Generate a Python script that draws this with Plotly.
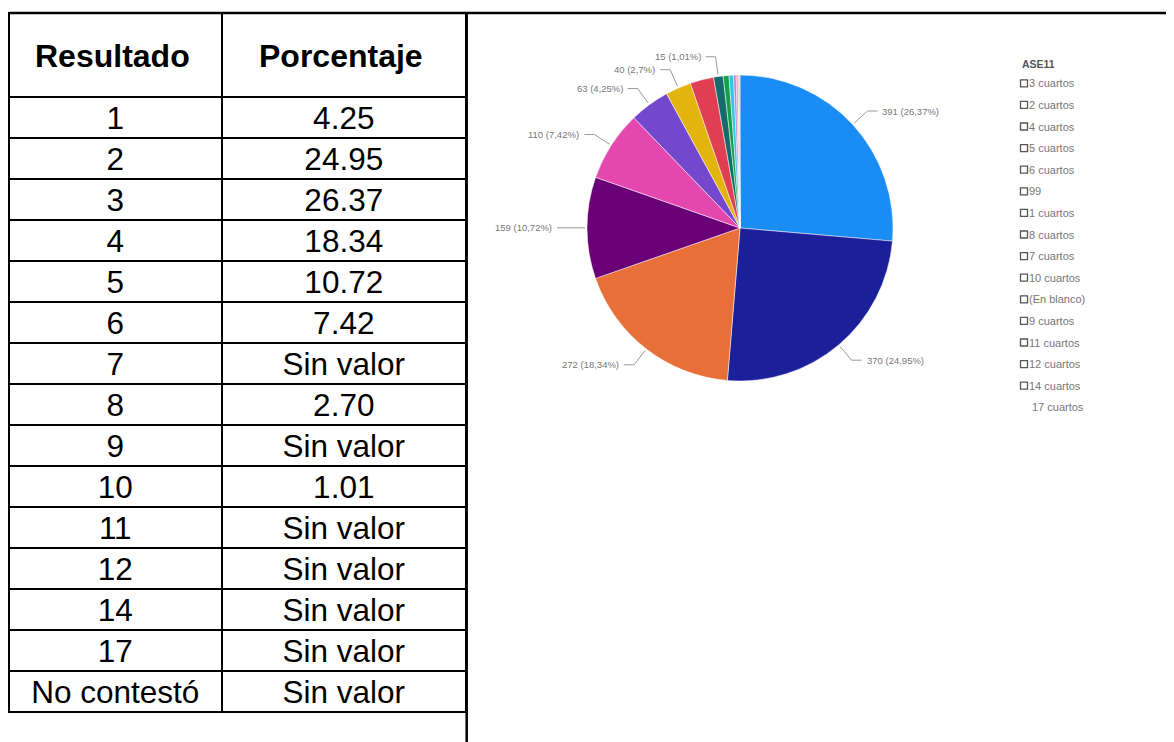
import math
import plotly.graph_objects as go

# ---------------- data ----------------
table_headers = ["Resultado", "Porcentaje"]
resultado = ["1", "2", "3", "4", "5", "6", "7", "8", "9", "10",
             "11", "12", "14", "17", "No contestó"]
porcentaje = ["4.25", "24.95", "26.37", "18.34", "10.72", "7.42", "Sin valor",
              "2.70", "Sin valor", "1.01", "Sin valor", "Sin valor",
              "Sin valor", "Sin valor", "Sin valor"]

legend_title = "ASE11"
pie_labels = ["3 cuartos", "2 cuartos", "4 cuartos", "5 cuartos", "6 cuartos",
              "99", "1 cuartos", "8 cuartos", "7 cuartos", "10 cuartos",
              "(En blanco)", "9 cuartos", "11 cuartos", "12 cuartos",
              "14 cuartos", "17 cuartos"]
pie_values = [391, 370, 272, 159, 110, 63, 40, 37, 15, 9, 7, 4, 3, 1, 1, 1]
pie_colors = ["#1a8cf5", "#1b1f99", "#e86f37", "#6a0078", "#e447ad",
              "#7448cc", "#e3b40d", "#df3f50", "#136b6b", "#12a14a",
              "#34c3e8", "#a78bd6", "#f48fb1", "#ff9800", "#795548",
              "#9e9e9e"]
label_shown = [True, True, True, True, True, True, True, False, True,
               False, False, False, False, False, False, False]
legend_has_box = [True] * 15 + [False]

# ---------------- layout helpers ----------------
# the page body adds an 8 px margin, so page coordinates are shifted by it
W, H = 1174, 742
OFF = 8


def px(x):
    return (x - OFF) / W


def py(y):
    return 1 - (y - OFF) / H


FONT = "Liberation Sans, Arial, sans-serif"

fig = go.Figure()

# ---------------- table ----------------
TX0, TX1, TY0 = 9, 466.7, 13
HEAD_H, ROW_H = 84, 41
COLW = [213, 245]
fig.add_trace(go.Table(
    domain=dict(x=[px(TX0), px(TX1)], y=[0, py(TY0)]),
    columnwidth=COLW,
    header=dict(
        values=["", ""],
        height=HEAD_H,
        align="center",
        font=dict(family=FONT, size=32, color="black"),
        line=dict(color="black", width=2),
        fill=dict(color="white"),
    ),
    cells=dict(
        values=[resultado, porcentaje],
        height=ROW_H,
        align="center",
        font=dict(family=FONT, size=31.5, color="black"),
        line=dict(color="black", width=2),
        fill=dict(color="white"),
    ),
))

annotations = []
shapes = []

# header labels, vertically centred in the tall header row
xstart = TX0
for name, w in zip(table_headers, COLW):
    cw = (TX1 - TX0) * w / sum(COLW)
    annotations.append(dict(
        x=px(xstart + cw / 2 - 3), y=py(TY0 + HEAD_H / 2 + 1),
        xref="paper", yref="paper", text=f"<b>{name}</b>", showarrow=False,
        xanchor="center", yanchor="middle",
        font=dict(family=FONT, size=32, color="black"),
    ))
    xstart += cw

# ---------------- pie ----------------
CX, CY, R = 740, 228, 153
fig.add_trace(go.Pie(
    values=pie_values,
    labels=pie_labels,
    sort=False,
    direction="clockwise",
    rotation=0,
    marker=dict(colors=pie_colors, line=dict(color="white", width=0.5)),
    textinfo="none",
    showlegend=False,
    domain=dict(x=[px(CX - R), px(CX + R)], y=[py(CY + R), py(CY - R)]),
))

# slice labels with leader lines, computed from the values
total = sum(pie_values)
cum = 0
for v, show in zip(pie_values, label_shown):
    mid = (cum + v / 2) / total * 2 * math.pi
    cum += v
    if not show:
        continue
    s, c = math.sin(mid), math.cos(mid)
    x0, y0 = CX + (R + 2) * s, CY - (R + 2) * c
    x1, y1 = CX + (R + 20) * s, CY - (R + 20) * c
    side = 1 if s >= 0 else -1
    x2 = x1 + side * 10
    shapes.append(dict(
        type="path", xref="paper", yref="paper",
        path=f"M {px(x0)},{py(y0)} L {px(x1)},{py(y1)} L {px(x2)},{py(y1)}",
        line=dict(color="#9a9a9a", width=1),
    ))
    pct = f"{v / total * 100:.2f}".rstrip("0").rstrip(".").replace(".", ",")
    annotations.append(dict(
        x=px(x2 + side * 3), y=py(y1), xref="paper", yref="paper",
        text=f"{v} ({pct}%)", showarrow=False,
        xanchor="left" if side > 0 else "right", yanchor="middle",
        font=dict(family=FONT, size=9.5, color="#777777"),
    ))

# legend (title + outlined boxes + names)
LX, LY0, LSTEP = 1020.5, 83.3, 21.6
annotations.append(dict(
    x=px(LX - 1), y=py(64), xref="paper", yref="paper",
    text=f"<b>{legend_title}</b>", showarrow=False,
    xanchor="left", yanchor="middle",
    font=dict(family=FONT, size=10.5, color="#555555"),
))
for i, (name, box) in enumerate(zip(pie_labels, legend_has_box)):
    yy = LY0 + i * LSTEP
    if box:
        shapes.append(dict(
            type="rect", xref="paper", yref="paper",
            x0=px(LX), x1=px(LX + 7), y0=py(yy - 3.5), y1=py(yy + 3.5),
            line=dict(color="#555555", width=1.3), fillcolor="white",
        ))
    annotations.append(dict(
        x=px(LX + 6.5 if box else LX + 9), y=py(yy), xref="paper", yref="paper",
        text=name, showarrow=False, xanchor="left", yanchor="middle",
        font=dict(family=FONT, size=11, color="#777777"),
    ))

# page frame lines
shapes.append(dict(type="line", xref="paper", yref="paper",
                   x0=px(TX0), x1=1, y0=py(TY0), y1=py(TY0),
                   line=dict(color="black", width=2.5)))
shapes.append(dict(type="line", xref="paper", yref="paper",
                   x0=px(TX1), x1=px(TX1), y0=py(TY0), y1=0,
                   line=dict(color="black", width=2.5)))

fig.update_layout(
    width=W, height=H,
    margin=dict(l=0, r=0, t=0, b=0, pad=0),
    paper_bgcolor="white", plot_bgcolor="white",
    shapes=shapes, annotations=annotations,
    showlegend=False,
)

fig.write_html("out.html")
